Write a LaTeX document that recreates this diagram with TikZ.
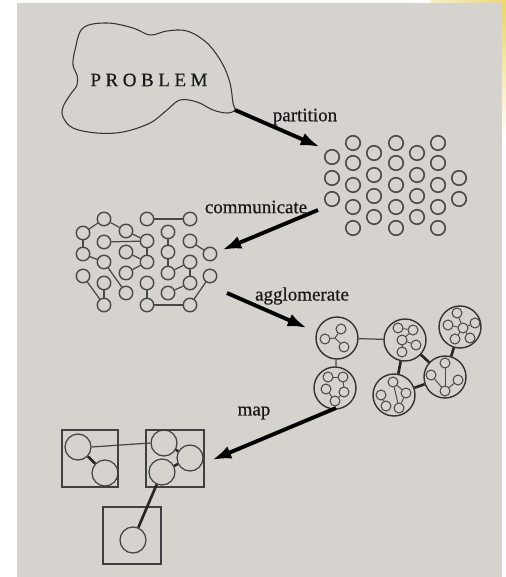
\documentclass[tikz,border=0pt]{standalone}
\usepackage{fontspec}
\setmainfont{Liberation Serif}
\usetikzlibrary{arrows.meta}
\definecolor{panel}{RGB}{214,211,206}
\definecolor{ink}{RGB}{72,72,72}
\definecolor{sun}{RGB}{236,214,112}
\begin{document}
\begin{tikzpicture}[x=0.02cm,y=-0.02cm,
  cell/.style={circle,draw=ink,line width=0.9pt,minimum size=0.29cm,inner sep=0pt},
  chan/.style={circle,draw=ink,line width=0.8pt,minimum size=0.27cm,inner sep=0pt},
  group/.style={circle,draw=black!80,line width=0.8pt,minimum size=0.84cm,inner sep=0pt},
  task/.style={circle,draw=black!75,line width=0.55pt,minimum size=0.2cm,inner sep=0pt},
  proc/.style={rectangle,draw=black!75,line width=0.6pt,inner sep=0pt},
  ptask/.style={circle,draw=black!75,line width=0.7pt,minimum size=0.52cm,inner sep=0pt},
  link/.style={draw=ink,line width=0.7pt},
  heavy/.style={draw=black!85,line width=1.5pt},
  bigarrow/.style={draw=black,line width=2.2pt,-{Latex[length=11pt,width=7.5pt]}},
  label/.style={text=black!90,font=\fontsize{10.8}{13}\selectfont\addfontfeature{FakeBold=0.6},inner sep=0pt}
]
% page and panel
\useasboundingbox (0,0) rectangle (506,577);
\fill[white] (0,0) rectangle (506,577);
\begin{scope}
  \clip (430,0) rectangle (506,160);
  \shade[inner color=sun,outer color=white] (506,10) circle (2.6cm);
\end{scope}
\fill[panel] (17,3) rectangle (502,577);

% the problem blob
\draw[black!80,line width=0.6pt] plot[smooth cycle,tension=0.6] coordinates {
  (83,28) (107,23) (133,28) (150,35) (167,31) (187,31) (207,43) (222,63)
  (230,83) (233,103) (235,110) (227,113) (213,110) (197,102) (180,100)
  (167,110) (150,123) (123,132) (97,133) (73,128) (63,117) (63,107)
  (70,95) (77,85) (77,75) (73,65) (75,50)};
\node[label] (problem) at (149,80)
  {P\kern2.6pt R\kern2.6pt O\kern2.6pt B\kern2.6pt L\kern2.6pt E\kern2.6pt M};
\coordinate (blobtip) at (235,110);

% partition: the fine grid of tasks
\foreach \y [count=\i] in {157,178,199} \node[cell] (p1\i) at (332,\y) {};
\foreach \y [count=\i] in {143,163,185,207,228} \node[cell] (p2\i) at (353,\y) {};
\foreach \y [count=\i] in {153,175,196,217} \node[cell] (p3\i) at (374,\y) {};
\foreach \y [count=\i] in {143,163,185,207,228} \node[cell] (p4\i) at (396,\y) {};
\foreach \y [count=\i] in {153,175,196,217} \node[cell] (p5\i) at (417,\y) {};
\foreach \y [count=\i] in {143,163,185,207,228} \node[cell] (p6\i) at (438,\y) {};
\foreach \y [count=\i] in {178,199} \node[cell] (p7\i) at (459,\y) {};

% communicate: the same grid with channels
\foreach \y [count=\i] in {233,254,276} \node[chan] (c1\i) at (83,\y) {};
\foreach \y [count=\i] in {219,242,262,283,305} \node[chan] (c2\i) at (104,\y) {};
\foreach \y [count=\i] in {231,252,273,293} \node[chan] (c3\i) at (126,\y) {};
\foreach \y [count=\i] in {219,241,262,283,305} \node[chan] (c4\i) at (147,\y) {};
\foreach \y [count=\i] in {232,252,273,293} \node[chan] (c5\i) at (168,\y) {};
\foreach \y [count=\i] in {219,241,262,283,305} \node[chan] (c6\i) at (190,\y) {};
\foreach \y [count=\i] in {254,276} \node[chan] (c7\i) at (210,\y) {};
\foreach \a/\b in {c21/c11, c21/c31, c41/c61, c22/c42, c11/c12, c42/c43,
  c51/c52, c52/c53, c62/c71, c63/c64, c13/c25, c24/c25, c44/c45, c45/c65,
  c65/c72, c12/c23, c32/c43, c33/c43, c53/c63, c31/c42, c23/c34, c54/c64}
  \draw[link] (\a) -- (\b);

% agglomerate: groups of tasks
\node[group] (g1) at (337,338) {};
\node[group] (g2) at (335,388) {};
\node[group] (g3) at (405,340) {};
\node[group] (g4) at (460,327) {};
\node[group] (g5) at (445,377) {};
\node[group] (g6) at (394,395) {};
\draw[link] (g1) -- (g3);
\draw[link] (g1) -- (g2);
\draw[heavy] (g3) -- (g6);
\draw[heavy] (g3) -- (g5);
\draw[heavy] (g4) -- (g5);
\draw[heavy] (g6) -- (g5);
% tasks inside group 1
\node[task] (t11) at (341,329) {};
\node[task] (t12) at (325,339) {};
\node[task] (t13) at (344,347) {};
\coordinate (j1) at (335,338);
\foreach \t in {t11,t12,t13} \draw[link,line width=0.55pt] (j1) -- (\t);
% tasks inside group 2
\node[task] (t21) at (328,377) {};
\node[task] (t22) at (343,377) {};
\node[task] (t23) at (326,389) {};
\node[task] (t24) at (344,392) {};
\node[task] (t25) at (335,401) {};
\foreach \a/\b in {t21/t22, t23/t25, t24/t25, t22/t24}
  \draw[link,line width=0.55pt] (\a) -- (\b);
% tasks inside group 3
\node[task] (t31) at (398,328) {};
\node[task] (t32) at (413,330) {};
\node[task] (t33) at (402,340) {};
\node[task] (t34) at (416,345) {};
\node[task] (t35) at (402,352) {};
\foreach \a/\b in {t31/t32, t32/t33, t33/t34, t33/t35}
  \draw[link,line width=0.55pt] (\a) -- (\b);
% tasks inside group 4
\node[task] (t41) at (457,313) {};
\node[task] (t42) at (448,325) {};
\node[task] (t43) at (463,328) {};
\node[task] (t44) at (475,323) {};
\node[task] (t45) at (470,338) {};
\node[task] (t46) at (455,339) {};
\foreach \a/\b in {t41/t43, t42/t43, t43/t44, t43/t45, t43/t46}
  \draw[link,line width=0.55pt] (\a) -- (\b);
% tasks inside group 5
\node[task] (t51) at (445,363) {};
\node[task] (t52) at (431,375) {};
\node[task] (t53) at (458,380) {};
\node[task] (t54) at (445,391) {};
\foreach \a/\b in {t51/t54, t52/t54, t53/t54}
  \draw[link,line width=0.55pt] (\a) -- (\b);
% tasks inside group 6
\node[task] (t61) at (393,382) {};
\node[task] (t62) at (381,395) {};
\node[task] (t63) at (406,393) {};
\node[task] (t64) at (386,406) {};
\node[task] (t65) at (399,408) {};
\foreach \a/\b in {t61/t65, t62/t64, t63/t65, t61/t63}
  \draw[link,line width=0.55pt] (\a) -- (\b);

% map: groups placed on processors
\node[proc,minimum width=1.12cm,minimum height=1.14cm] (box1) at (90,458.5) {};
\node[proc,minimum width=1.16cm,minimum height=1.14cm] (box2) at (175,458.5) {};
\node[proc,minimum width=1.16cm,minimum height=1.14cm] (box3) at (132,535.5) {};
\node[ptask] (m1) at (78,447) {};
\node[ptask] (m2) at (105,473) {};
\node[ptask] (m3) at (164,443) {};
\node[ptask] (m4) at (190,458) {};
\node[ptask] (m5) at (162,472) {};
\node[ptask] (m6) at (133,540) {};
\draw[link] (m1.east) -- (m3.west);
\draw[heavy] (m1) -- (m2);
\draw[heavy] (m3) -- (m4);
\draw[heavy] (m4) -- (m5);
\draw[heavy] (m5) -- (m6);

% the four design steps
\coordinate (pa) at (320,147);
\coordinate (cs) at (318,210);
\coordinate (ce) at (222,250);
\coordinate (as) at (227,293);
\coordinate (ae) at (307,328);
\coordinate (ms) at (336,408);
\coordinate (me) at (212,460);
\draw[bigarrow] (blobtip) -- (pa);
\draw[bigarrow] (cs) -- (ce);
\draw[bigarrow] (as) -- (ae);
\draw[bigarrow] (ms) -- (me);
\node[label] (lpart) at (305,117) {partition};
\node[label] (lcomm) at (256,207) {communicate};
\node[label] (lagg) at (302,296) {agglomerate};
\node[label] (lmap) at (254,413) {map};
\end{tikzpicture}
\end{document}
